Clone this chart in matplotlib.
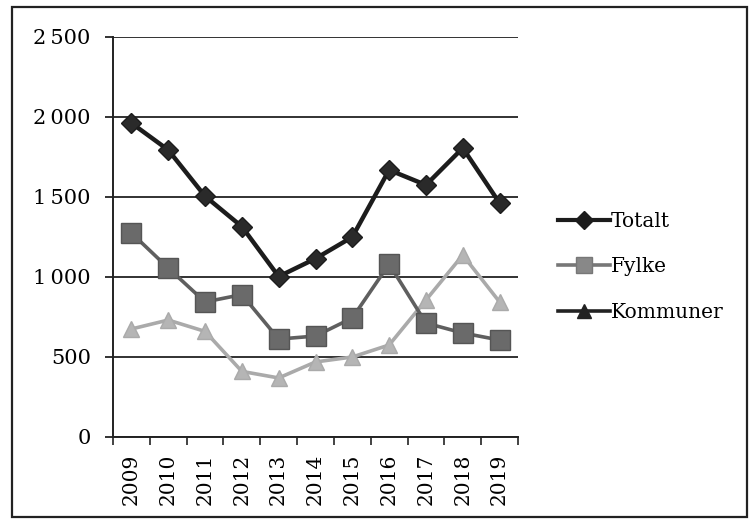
import matplotlib
matplotlib.use("Agg")
import matplotlib.pyplot as plt
from matplotlib.lines import Line2D
from matplotlib.patches import Rectangle
from matplotlib.ticker import FuncFormatter, FixedLocator

years = ["2009", "2010", "2011", "2012", "2013", "2014", "2015", "2016", "2017", "2018", "2019"]
totalt = [1962, 1794, 1505, 1315, 1003, 1115, 1250, 1669, 1575, 1806, 1462]
fylke = [1275, 1056, 844, 890, 612, 631, 744, 1081, 712, 650, 606]
kommuner = [675, 731, 660, 410, 369, 469, 500, 575, 856, 1137, 844]
yticks = [0, 500, 1000, 1500, 2000, 2500]

plt.rcParams['font.family'] = ['DejaVu Serif', 'Liberation Serif']

fig = plt.figure(figsize=(7.5, 5.24), dpi=100)
fig.patch.set_facecolor('white')
fig.patches.append(Rectangle((12/750, 7/524), 735/750, 510/524, transform=fig.transFigure,
                             fill=False, edgecolor='#222222', linewidth=1.6))

ax = fig.add_axes([113/750, 87/524, 405/750, 400/524])
x = list(range(len(years)))

ax.plot(x, kommuner, color='#aaaaaa', lw=2.6, marker='^', ms=12, mec='#aaaaaa', mfc='#b5b5b5', zorder=3)
ax.plot(x, fylke, color='#5f5f5f', lw=2.6, marker='s', ms=14, mec='#555555', mfc='#6a6a6a', zorder=4)
ax.plot(x, totalt, color='#1c1c1c', lw=3.2, marker='D', ms=10, mec='#1c1c1c', mfc='#2a2a2a', zorder=5)

ax.set_xlim(-0.5, len(years) - 0.5)
ax.set_ylim(0, 2500)
ax.yaxis.set_major_locator(FixedLocator(yticks))
ax.yaxis.set_major_formatter(FuncFormatter(lambda v, p: f"{int(v):,}".replace(",", "\u202f")))
ax.grid(axis='y', color='#222222', lw=1.3, zorder=1)
ax.set_xticks(x)
ax.set_xticklabels(years, rotation=90)
ax.set_xticks([i - 0.5 for i in range(len(years) + 1)], minor=True)
ax.tick_params(axis='x', which='major', length=0, pad=12, labelsize=14.5)
ax.tick_params(axis='x', which='minor', length=6, width=1.2, color='#222222')
ax.tick_params(axis='y', length=6, width=1.3, color='#222222', labelsize=15, pad=10)
for s in ['top', 'right']:
    ax.spines[s].set_visible(False)
for s in ['left', 'bottom']:
    ax.spines[s].set_color('#222222')
    ax.spines[s].set_linewidth(1.4)

handles = [
    Line2D([], [], color='#1c1c1c', lw=3, marker='D', ms=9),
    Line2D([], [], color='#777777', lw=2.6, marker='s', ms=11, mfc='#888888', mec='#777777'),
    Line2D([], [], color='#222222', lw=2.6, marker='^', ms=10),
]
fig.legend(handles, ["Totalt", "Fylke", "Kommuner"], loc='center left',
           bbox_to_anchor=(540/750, 1 - 267/524), frameon=False, fontsize=14.5,
           handlelength=2.6, handletextpad=0.0, labelspacing=1.3)

fig.savefig("out.png", dpi=100, facecolor='white')
